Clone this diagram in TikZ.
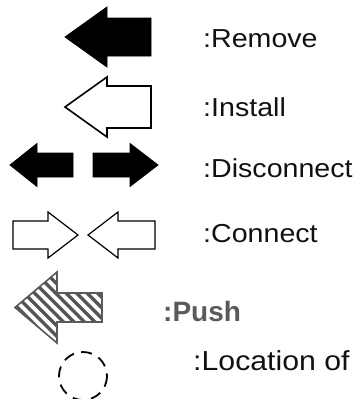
\documentclass[tikz,border=0pt]{standalone}
\usepackage{fontspec}
\setmainfont{Liberation Sans}
\newfontfamily\lab[FakeStretch=1.1]{Liberation Sans}
\definecolor{txt}{HTML}{111111}
\definecolor{pushgray}{HTML}{5A5A5A}
\definecolor{hatch}{HTML}{555555}
\tikzset{
  label text/.style={anchor=base west, inner sep=0pt, text=txt, font=\lab\fontsize{26}{30}\selectfont},
  push text/.style={anchor=base west, inner sep=0pt, text=pushgray, font=\bfseries\fontsize{28}{32}\selectfont},
  solid arrow/.style={fill=black, draw=black, line width=0.8},
  open arrow/.style={draw=black, fill=white, line width=1.6, line join=miter},
  push outline/.style={draw=pushgray, line width=1.6, line join=miter},
  locring/.style={draw=black, line width=1.8, dash pattern=on 11 off 7.5}
}
\begin{document}
\begin{tikzpicture}[x=1pt,y=-1pt]
\useasboundingbox (0,0) rectangle (357,399);
% Remove
\path[solid arrow] (65,37) -- (107,7) -- (107,18) -- (151,18) -- (151,56) -- (107,56) -- (107,67) -- cycle;
\node[label text] (remove) at (203,47) {:Remove};
% Install
\path[open arrow] (65,107) -- (107,77) -- (107,86) -- (151,86) -- (151,128) -- (107,128) -- (107,137) -- cycle;
\node[label text] (install) at (203,116) {:Install};
% Disconnect
\path[solid arrow] (10,165) -- (37,143.5) -- (37,153) -- (73,153) -- (73,177) -- (37,177) -- (37,186.5) -- cycle;
\path[solid arrow] (158,165) -- (130,143.5) -- (130,153) -- (93,153) -- (93,177) -- (130,177) -- (130,186.5) -- cycle;
\node[label text] (disconnect) at (203,177) {:Disconnect};
% Connect
\path[open arrow, line width=1.2] (78,235) -- (48,212) -- (48,221) -- (13,221) -- (13,249) -- (48,249) -- (48,258) -- cycle;
\path[open arrow, line width=1.2] (88,235) -- (118,212) -- (118,221) -- (155,221) -- (155,249) -- (118,249) -- (118,258) -- cycle;
\node[label text] (connect) at (203,242) {:Connect};
% Push
\begin{scope}
  \clip (15,307.5) -- (57,272) -- (57,293) -- (102,293) -- (102,322) -- (57,322) -- (57,343) -- cycle;
  \fill[white] (0,260) rectangle (120,360);
  \foreach \k in {0,...,16} {
    \draw[hatch, line width=3.4] (-72+\k*10.5,260) -- ++(100,100);
  }
\end{scope}
\path[push outline] (15,307.5) -- (57,272) -- (57,293) -- (102,293) -- (102,322) -- (57,322) -- (57,343) -- cycle;
\node[push text] (push) at (163,321) {:Push};
% Location
\node[label text, font=\lab\fontsize{27.5}{32}\selectfont] (location) at (193,370) {:Location of};
\draw[locring] (83,376) circle (24);
\end{tikzpicture}
\end{document}
